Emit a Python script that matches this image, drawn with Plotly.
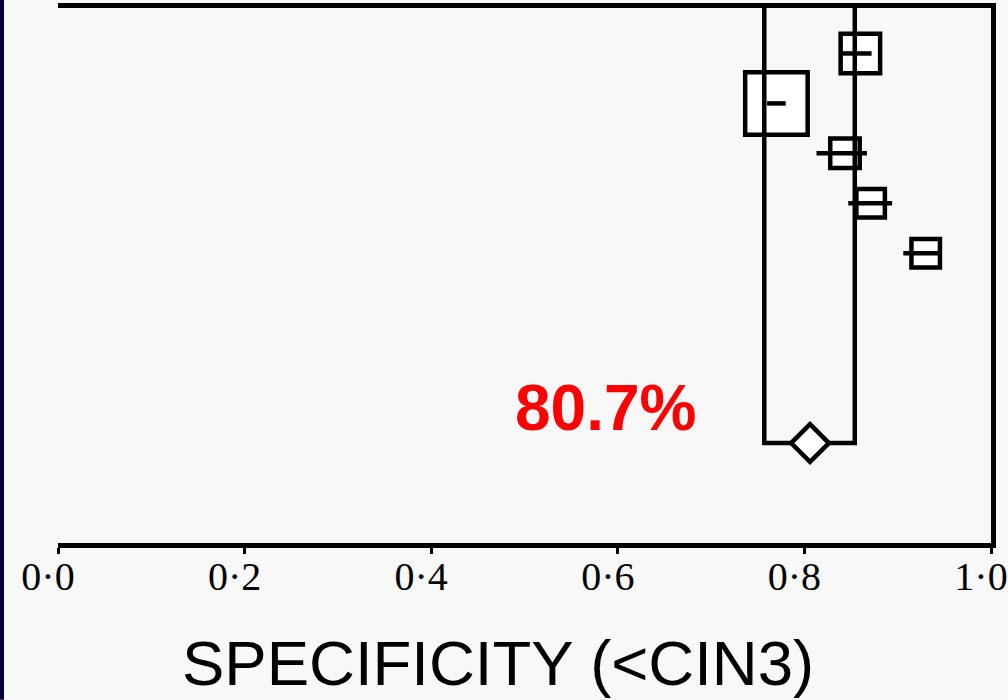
import plotly.graph_objects as go

# ---- data ----
study_rows = [1, 2, 3, 4, 5]
study_est = [0.860, 0.770, 0.8435, 0.871, 0.930]
study_lo = [0.841, 0.760, 0.813, 0.847, 0.906]
study_hi = [0.872, 0.780, 0.867, 0.894, 0.947]
study_box_px = [44, 67, 34, 33, 33]          # box sizes (relative weight), pixels

pooled_est = 0.806
pooled_lo = 0.757
pooled_hi = 0.854
pooled_row = 8.8
pooled_label = "80.7%"

tick_vals = [0.0, 0.2, 0.4, 0.6, 0.8, 1.0]
tick_text = ["0·0", "0·2", "0·4", "0·6", "0·8", "1·0"]
x_title = "SPECIFICITY (<CIN3)"

y_top, y_bottom = 0.09, 10.8

BG = "#f8f8f8"
LW = 4.5

fig = go.Figure()

# study boxes (pixel-sized squares anchored at the estimates)
for r, est, s in zip(study_rows, study_est, study_box_px):
    h = (s - LW) / 2
    fig.add_shape(type="rect", xref="x", yref="y",
                  xsizemode="pixel", ysizemode="pixel",
                  xanchor=est, yanchor=r, x0=-h, x1=h, y0=-h, y1=h,
                  fillcolor="white", line=dict(color="black", width=LW),
                  layer="below")

# pooled CI bracket (vertical lines to the top + horizontal line)
fig.add_trace(go.Scatter(
    x=[pooled_lo, pooled_lo, pooled_hi, pooled_hi],
    y=[y_top, pooled_row, pooled_row, y_top],
    mode="lines", line=dict(color="black", width=LW),
    hoverinfo="skip", showlegend=False))

# study CI lines
for r, lo, hi in zip(study_rows, study_lo, study_hi):
    fig.add_trace(go.Scatter(
        x=[lo, hi], y=[r, r], mode="lines",
        line=dict(color="black", width=LW),
        hoverinfo="skip", showlegend=False))

# pooled diamond
fig.add_trace(go.Scatter(
    x=[pooled_est], y=[pooled_row], mode="markers",
    marker=dict(symbol="diamond", size=29, color="white",
                line=dict(color="black", width=LW)),
    hoverinfo="skip", showlegend=False))

# pooled label
fig.add_annotation(x=0.587, y=8.1, xref="x", yref="y", text=f"<b>{pooled_label}</b>",
                   showarrow=False, xanchor="center", yanchor="middle",
                   font=dict(family="Liberation Sans, Arial", size=64, color="#ff0000"))

# x title
fig.add_annotation(x=(497.5 - 58) / 933, y=-0.224, xref="paper", yref="paper", text=x_title,
                   showarrow=False, xanchor="center", yanchor="middle",
                   font=dict(family="Liberation Sans, Arial", size=63.5, color="black"))

# left navy strip
fig.add_shape(type="rect", xref="paper", yref="paper",
              x0=-58 / 933, x1=-54 / 933, y0=-157 / 535.5, y1=1 + 8 / 535.5,
              fillcolor="#00003c", line=dict(width=0), layer="above")

fig.update_xaxes(range=[0, 1], tickvals=tick_vals, ticktext=tick_text,
                 showgrid=False, zeroline=False, automargin=False,
                 showline=True, linecolor="black", linewidth=LW, mirror=True,
                 ticks="outside", ticklen=6, tickwidth=3, tickcolor="black",
                 ticklabelshift=-10, ticklabelstandoff=-12,
                 tickfont=dict(family="Liberation Serif, Times New Roman", size=40, color="black"))
fig.update_yaxes(range=[y_bottom, y_top], showgrid=False, zeroline=False, automargin=False,
                 showticklabels=False, side="right",
                 showline=True, linecolor="black", linewidth=LW, mirror=False)

fig.update_layout(width=1008, height=700,
                  margin=dict(l=58, r=17, t=8, b=157, pad=0, autoexpand=False),
                  plot_bgcolor=BG, paper_bgcolor=BG, showlegend=False)

fig.write_html("out.html", config={"displayModeBar": False},
               post_script="document.body.style.margin='0';document.body.style.overflow='hidden';")
